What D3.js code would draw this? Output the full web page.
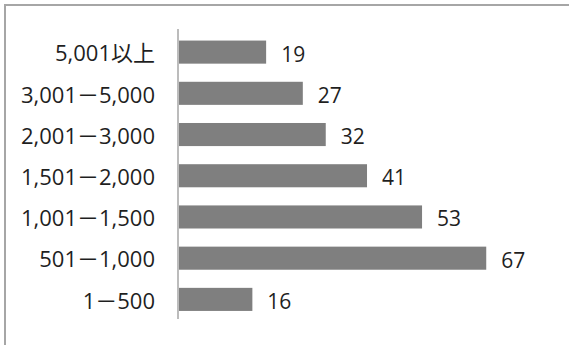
<!DOCTYPE html>
<html>
<head>
<meta charset="utf-8">
<script src="https://cdn.jsdelivr.net/npm/d3@7"></script>
<style>
  html, body { margin: 0; padding: 0; background: #fff; }
  svg { display: block; }
  text { font-family: "Open Sans", "Noto Sans CJK JP", sans-serif; fill: #1f1f1f; }
</style>
</head>
<body>
<svg id="chart" width="569" height="345"></svg>
<script>
// Size bands (top to bottom) and their counts
const categories = ["5,001以上", "3,001－5,000", "2,001－3,000", "1,501－2,000", "1,001－1,500", "501－1,000", "1－500"];
const values = [19, 27, 32, 41, 53, 67, 16];

const svg = d3.select("#chart");
const W = 569, H = 345;

// Frame (top and left edges only show within the view)
svg.append("rect")
  .attr("x", 5).attr("y", 5)
  .attr("width", W + 10).attr("height", H + 10)
  .attr("fill", "none")
  .attr("stroke", "#a6a6a6")
  .attr("stroke-width", 2);

const x = d3.scaleLinear().domain([0, 70]).range([179, 500]);
const y = d3.scaleBand().domain(categories).range([31.5, 320]).paddingInner(0.44).paddingOuter(0.22);

// Bars
svg.append("g").selectAll("rect")
  .data(values)
  .join("rect")
  .attr("x", x(0))
  .attr("y", (d, i) => y(categories[i]))
  .attr("width", d => x(d) - x(0))
  .attr("height", y.bandwidth())
  .attr("fill", "#7f7f7f");

// Category axis
const axis = d3.axisLeft(y).tickSize(0).tickPadding(23);
const gAxis = svg.append("g").attr("transform", `translate(${x(0) - 1},0)`).call(axis);
gAxis.select(".domain").attr("stroke", "#a6a6a6").attr("stroke-width", 1.5)
  .attr("d", `M0,${29}V${319}`);
gAxis.selectAll("text")
  .attr("font-size", 22)
  .attr("dy", "0.42em")
  .style("font-family", "'Open Sans', 'Noto Sans CJK JP', sans-serif")
  .attr("fill", "#1f1f1f");

// Value labels
svg.append("g").selectAll("text")
  .data(values)
  .join("text")
  .attr("x", d => x(d) + 15)
  .attr("y", (d, i) => y(categories[i]) + y.bandwidth() / 2)
  .attr("dy", "0.45em")
  .attr("font-size", 21)
  .text(d => d);
</script>
</body>
</html>
